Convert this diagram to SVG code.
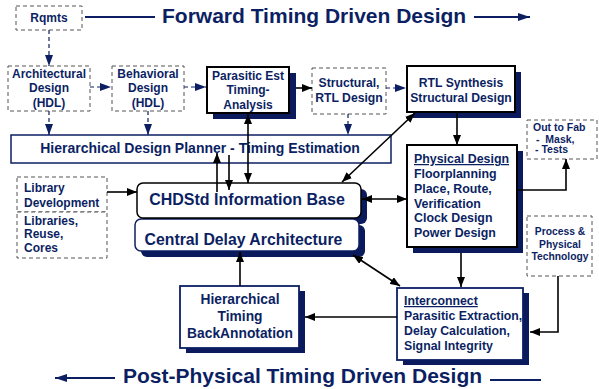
<svg xmlns="http://www.w3.org/2000/svg" width="599" height="389" viewBox="0 0 599 389">
<style>
text{font-family:"Liberation Sans",Arial,sans-serif;font-weight:bold;fill:#0c1f63}
.t{font-size:21px}
.c{text-anchor:middle}
.dash{fill:#fff;stroke:#555;stroke-width:1;stroke-dasharray:4 3}
.sh{fill:#0a1a5c}
.bk{fill:#fff;stroke:#000;stroke-width:2}
.nv{fill:#fff;stroke:#0c1f63;stroke-width:1.5}
.a{fill:none;stroke:#000;stroke-width:1.6;marker-end:url(#ah)}
.b{fill:none;stroke:#000;stroke-width:1.6;marker-start:url(#ah);marker-end:url(#ah)}
.d{fill:none;stroke:#0c1f63;stroke-width:1.2;stroke-dasharray:4 3;marker-end:url(#dh)}
.tl{fill:none;stroke:#0c1f63;stroke-width:2}
</style>
<defs>
<marker id="ah" viewBox="0 0 10 8" refX="10" refY="4" markerWidth="10" markerHeight="8" orient="auto-start-reverse" markerUnits="userSpaceOnUse"><path d="M0,0 L10,4 L0,8 z" fill="#000"/></marker>
<marker id="dh" viewBox="0 0 11 8" refX="11" refY="4" markerWidth="11" markerHeight="8" orient="auto" markerUnits="userSpaceOnUse"><path d="M0,0 L11,4 L0,8 z" fill="#0c1f63"/></marker>
<marker id="th" viewBox="0 0 12 8" refX="12" refY="4" markerWidth="12" markerHeight="8" orient="auto" markerUnits="userSpaceOnUse"><path d="M0,0 L12,4 L0,8 z" fill="#0c1f63"/></marker>
</defs>

<g id="titles">
<text class="t" x="162" y="22.5">Forward Timing Driven Design</text>
<line class="tl" x1="85" y1="17" x2="155" y2="17"/>
<line class="tl" x1="474" y1="17" x2="530" y2="17" marker-end="url(#th)"/>
<text class="t" x="123" y="383">Post-Physical Timing Driven Design</text>
<line class="tl" x1="115" y1="378" x2="55" y2="378" marker-end="url(#th)"/>
<line class="tl" x1="490" y1="380" x2="541" y2="380"/>
</g>

<g id="rqmts">
<rect class="dash" x="16" y="6" width="66" height="24"/>
<text class="c" x="49" y="21.5" font-size="12">Rqmts</text>
</g>

<g id="architectural">
<rect class="dash" x="8" y="66" width="82" height="45"/>
<text class="c" font-size="12"><tspan x="49" y="77.5">Architectural</tspan><tspan x="49" y="92">Design</tspan><tspan x="49" y="106.5">(HDL)</tspan></text>
</g>

<g id="behavioral">
<rect class="dash" x="112" y="66" width="72" height="45"/>
<text class="c" font-size="12"><tspan x="148" y="77.5">Behavioral</tspan><tspan x="148" y="92">Design</tspan><tspan x="148" y="106.5">(HDL)</tspan></text>
</g>

<g id="parasitic">
<rect class="sh" x="213" y="73" width="83" height="46"/>
<rect class="bk" x="207" y="67" width="82" height="46"/>
<text class="c" font-size="12"><tspan x="248" y="79.5">Parasitic Est</tspan><tspan x="248" y="94">Timing-</tspan><tspan x="248" y="108.5">Analysis</tspan></text>
</g>

<g id="structural">
<rect class="dash" x="312" y="68" width="74" height="46"/>
<text class="c" font-size="12.2"><tspan x="349" y="87">Structural,</tspan><tspan x="349" y="101.5">RTL Design</tspan></text>
</g>

<g id="rtl">
<rect class="sh" x="413" y="72" width="108" height="46"/>
<rect class="bk" x="407" y="66" width="108" height="46"/>
<text class="c" font-size="12.2"><tspan x="461" y="86.5">RTL Synthesis</tspan><tspan x="461" y="101.5">Structural Design</tspan></text>
</g>

<g id="planner">
<rect class="nv" x="11" y="135" width="380" height="28"/>
<text class="c" x="200" y="153" font-size="14">Hierarchical Design Planner - Timing Estimation</text>
</g>

<g id="outtofab">
<rect class="dash" x="527" y="120" width="70" height="39"/>
<text font-size="10.5"><tspan x="533" y="131">Out to Fab</tspan><tspan x="536" y="142.5" xml:space="preserve">-  Mask,</tspan><tspan x="535" y="153.2">- Tests</tspan></text>
</g>

<g id="library">
<rect class="dash" x="17" y="177" width="90" height="35"/>
<text font-size="12"><tspan x="24" y="192">Library</tspan><tspan x="24" y="207">Development</tspan></text>
</g>

<g id="libraries">
<rect class="dash" x="17" y="212" width="90" height="46"/>
<text font-size="12"><tspan x="24" y="225">Libraries,</tspan><tspan x="24" y="238">Reuse,</tspan><tspan x="24" y="251.5">Cores</tspan></text>
</g>

<g id="infobase">
<rect class="sh" x="143" y="189" width="224" height="35" rx="6"/>
<rect class="sh" x="141" y="225" width="224" height="32" rx="6"/>
<rect x="135" y="219" width="224" height="32" rx="6" fill="#fff" stroke="#0c1f63" stroke-width="1.5"/>
<rect x="137" y="183" width="224" height="35" rx="6" fill="#fff" stroke="#000" stroke-width="1.5"/>
<text class="c" x="247" y="205" font-size="16">CHDStd Information Base</text>
</g>

<g id="centraldelay">
<text class="c" x="243.5" y="244.5" font-size="15.8">Central Delay Architecture</text>
</g>

<g id="physical">
<rect class="sh" x="413" y="151" width="110" height="102"/>
<rect class="bk" x="407" y="145" width="110" height="102"/>
<text font-size="12.4"><tspan x="414" y="163" text-decoration="underline">Physical Design</tspan><tspan x="414" y="178">Floorplanning</tspan><tspan x="414" y="192.5">Place, Route,</tspan><tspan x="414" y="207.5">Verification</tspan><tspan x="414" y="222">Clock Design</tspan><tspan x="414" y="237">Power Design</tspan></text>
</g>

<g id="process">
<rect class="dash" x="527" y="216" width="65" height="60"/>
<text class="c" font-size="10.3"><tspan x="560" y="235">Process &amp;</tspan><tspan x="560" y="247.5">Physical</tspan><tspan x="560" y="260">Technology</tspan></text>
</g>

<g id="interconnect">
<rect class="sh" x="403" y="293" width="126" height="72"/>
<rect x="397" y="288" width="126" height="72" fill="#fff" stroke="#0c1f63" stroke-width="1.8"/>
<text font-size="12.3"><tspan x="404" y="305" text-decoration="underline">Interconnect</tspan><tspan x="404" y="320">Parasitic Extraction,</tspan><tspan x="404" y="334.5">Delay Calculation,</tspan><tspan x="404" y="350">Signal Integrity</tspan></text>
</g>

<g id="backannotation">
<rect class="sh" x="186" y="291" width="119" height="62"/>
<rect x="180" y="286" width="119" height="62" fill="#fff" stroke="#0c1f63" stroke-width="1.8"/>
<text class="c" font-size="13.8"><tspan x="240" y="304.3">Hierarchical</tspan><tspan x="240" y="321">Timing</tspan><tspan x="240" y="337.7">BackAnnotation</tspan></text>
</g>

<g id="connectors">
<line class="d" x1="49" y1="30" x2="49" y2="66"/>
<line class="d" x1="90" y1="87" x2="111" y2="87"/>
<line class="d" x1="184" y1="87" x2="206" y2="87"/>
<line class="d" x1="386" y1="88" x2="406" y2="88"/>
<line class="d" x1="49" y1="111" x2="49" y2="135"/>
<line class="d" x1="148" y1="111" x2="148" y2="135"/>
<line class="d" x1="348" y1="114" x2="348" y2="135"/>
<line class="a" x1="296" y1="88" x2="312" y2="88"/>
<line class="a" x1="457" y1="112" x2="457" y2="145"/>
<line class="b" x1="415" y1="113" x2="342" y2="182"/>
<line class="b" x1="248" y1="114" x2="248" y2="183"/>
<line class="a" x1="217" y1="192" x2="217" y2="153"/>
<line class="a" x1="229" y1="155" x2="229" y2="190"/>
<line class="a" x1="107" y1="192" x2="137" y2="192"/>
<line class="b" x1="362" y1="199" x2="407" y2="199"/>
<polyline class="a" points="517,190 566,190 566,159"/>
<line class="a" x1="461" y1="253" x2="461" y2="287"/>
<line class="b" x1="353" y1="255" x2="400" y2="286"/>
<polyline class="a" points="558,276 558,332 530,332"/>
<line class="a" x1="397" y1="317" x2="305" y2="317"/>
<line class="a" x1="240" y1="286" x2="240" y2="252"/>
</g>
</svg>
